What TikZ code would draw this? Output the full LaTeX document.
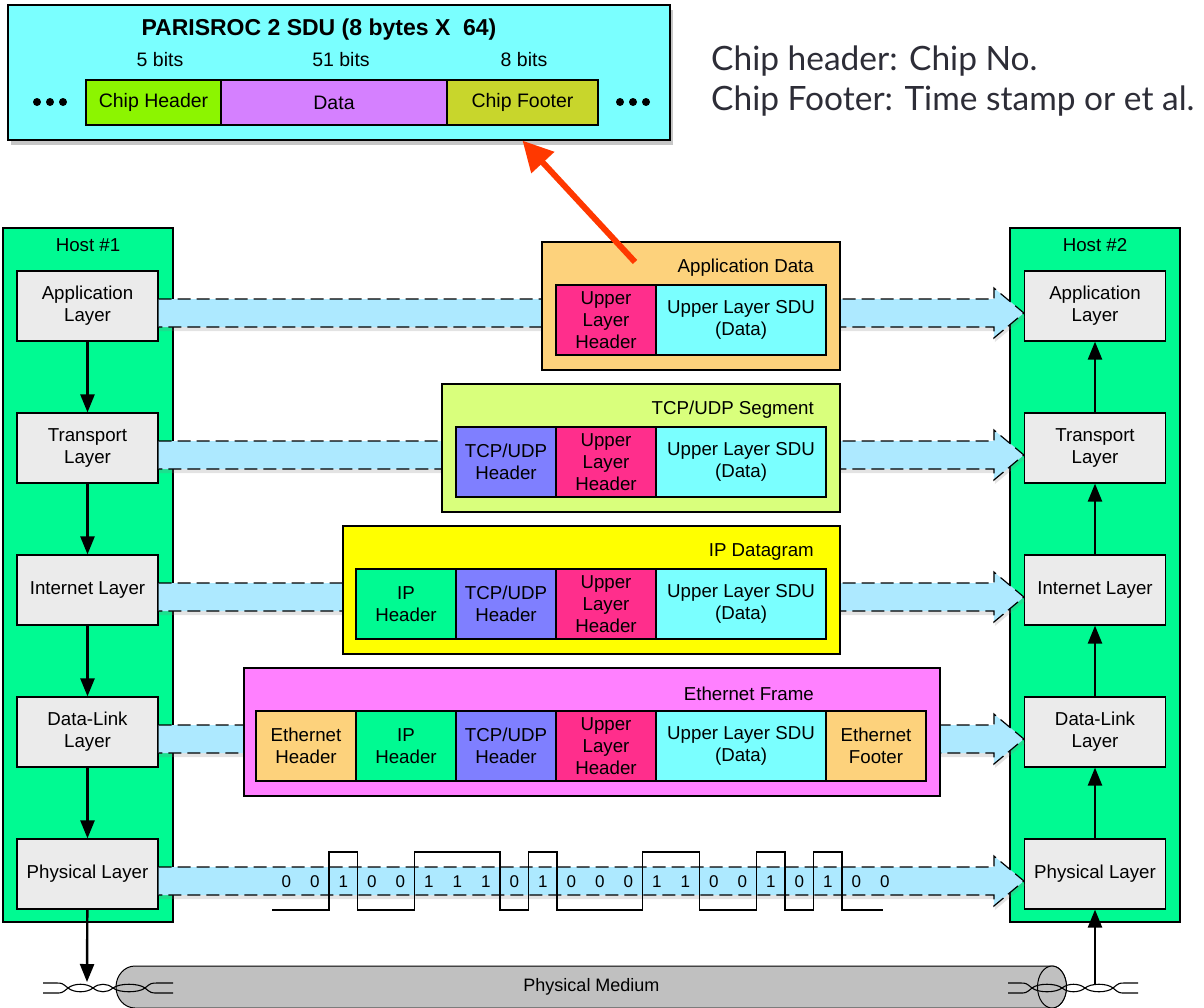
\documentclass[tikz,border=0pt]{standalone}
\usepackage{fontspec}
\setmainfont{Liberation Sans}
\newfontfamily\notefont{Lato}
\usetikzlibrary{arrows.meta,shadows}

\definecolor{sducyan}{RGB}{122,255,255}
\definecolor{chipgreen}{RGB}{140,245,0}
\definecolor{datapurple}{RGB}{213,128,255}
\definecolor{footolive}{RGB}{200,214,44}
\definecolor{hostgreen}{RGB}{0,250,146}
\definecolor{layergray}{RGB}{235,235,235}
\definecolor{bandblue}{RGB}{173,233,255}
\definecolor{apporange}{RGB}{253,210,124}
\definecolor{ulhpink}{RGB}{255,46,140}
\definecolor{tcplime}{RGB}{217,255,124}
\definecolor{tcpblue}{RGB}{127,127,255}
\definecolor{ipyellow}{RGB}{255,255,0}
\definecolor{ethpink}{RGB}{255,128,255}
\definecolor{redarrow}{RGB}{255,56,0}
\definecolor{medgray}{RGB}{192,192,192}
\definecolor{notegray}{RGB}{45,45,55}

\begin{document}
\begin{tikzpicture}[x=1pt,y=-1pt,line join=miter,
  every node/.style={font=\fontsize{18.7}{22}\selectfont},
  host/.style={draw,line width=1.2pt,fill=hostgreen,minimum width=170pt,minimum height=694pt},
  layer/.style={draw,line width=1.2pt,fill=layergray,minimum width=141pt,minimum height=70pt,align=center,inner sep=1pt},
  band/.style={fill=bandblue,drop shadow={shadow xshift=1pt,shadow yshift=-4pt,opacity=0.22}},
  bandedge/.style={line width=1.2pt,dash pattern=on 13pt off 6pt},
  frame/.style={draw,line width=1.2pt,minimum height=128pt},
  field/.style={draw,line width=1.2pt,minimum height=70pt,align=center,inner sep=1pt},
  tag/.style={anchor=east,inner sep=0pt},
  chip/.style={draw,line width=1.2pt,minimum height=45pt,font=\fontsize{19.5}{22}\selectfont},
  note/.style={anchor=base west,inner sep=0pt,text=notegray,font=\notefont\fontsize{33.5}{40}\selectfont},
  flow/.style={line width=2.4pt,-{Triangle[length=18pt,width=14pt]}},
  wire/.style={line width=1.1pt},
  bit/.style={font=\fontsize{17}{20}\selectfont,inner sep=0pt}]
  \useasboundingbox (0,0) rectangle (1204,1007);

  % SDU box on top
  \node[chip,fill=sducyan,minimum width=662pt,minimum height=135pt,
    drop shadow={shadow xshift=3pt,shadow yshift=-5pt,opacity=0.45}] (sdubox) at (339,72.5) {};
  \node[font=\bfseries\fontsize{23}{26}\selectfont] (sdutitle) at (319,30) {PARISROC 2 SDU (8 bytes X\ \ 64)};
  \node[chip,draw=none] (bits5) at (160,60) {5 bits};
  \node[chip,draw=none] (bits51) at (341,60) {51 bits};
  \node[chip,draw=none] (bits8) at (524,60) {8 bits};
  \node[chip,fill=chipgreen,minimum width=135pt] (chiphdr) at (153.5,102.5) {Chip Header};
  \node[chip,fill=datapurple,minimum width=226pt] (chipdata) at (334,102.5) {Data};
  \node[chip,fill=footolive,minimum width=151pt] (chipftr) at (522.5,102.5) {Chip Footer};
  \fill (37,102) circle (4);
  \fill (50,102) circle (4);
  \fill (63,102) circle (4);
  \fill (620,102) circle (4);
  \fill (633,102) circle (4);
  \fill (646,102) circle (4);
  \node[note] (note1) at (711,70) {Chip header: Chip No.};
  \node[note] (note2) at (711,110) {Chip Footer: Time stamp or et al.};

  % hosts and layers
  \node[host] (host1) at (88,575) {};
  \node[host] (host2) at (1095,575) {};
  \node (host1lbl) at (88,245) {Host \#1};
  \node (host2lbl) at (1095,245) {Host \#2};
  \node[layer] (L1) at (87.5,306) {Application\\Layer};
  \node[layer] (L2) at (87.5,448) {Transport\\Layer};
  \node[layer] (L3) at (87.5,590) {Internet Layer};
  \node[layer] (L4) at (87.5,732) {Data-Link\\Layer};
  \node[layer] (L5) at (87.5,874) {Physical Layer};
  \node[layer] (R1) at (1095,306) {Application\\Layer};
  \node[layer] (R2) at (1095,448) {Transport\\Layer};
  \node[layer] (R3) at (1095,590) {Internet Layer};
  \node[layer] (R4) at (1095,732) {Data-Link\\Layer};
  \node[layer] (R5) at (1095,874) {Physical Layer};

  % peer bands
  \foreach \n in {1,...,5} {
    \fill[band] ([yshift=7pt]L\n.east) -- ([xshift=-30pt,yshift=7pt]R\n.west)
      -- ([xshift=-30pt,yshift=18pt]R\n.west) -- ([yshift=-7pt]R\n.west)
      -- ([xshift=-30pt,yshift=-32pt]R\n.west) -- ([xshift=-30pt,yshift=-21pt]R\n.west)
      -- ([yshift=-21pt]L\n.east) -- cycle;
    \draw[bandedge] ([yshift=7pt]L\n.east) -- ([xshift=-30pt,yshift=7pt]R\n.west)
      -- ([xshift=-30pt,yshift=18pt]R\n.west) -- ([yshift=-7pt]R\n.west)
      -- ([xshift=-30pt,yshift=-32pt]R\n.west) -- ([xshift=-30pt,yshift=-21pt]R\n.west)
      -- ([yshift=-21pt]L\n.east);
  }

  % application data
  \node[frame,fill=apporange,minimum width=298pt] (appfr) at (691,306) {};
  \node[tag] (applbl) at (814,268) {Application Data};
  \node[field,fill=ulhpink,minimum width=100pt] (appulh) at (606,320) {Upper\\Layer\\Header};
  \node[field,fill=sducyan,minimum width=170pt] (appsdu) at (741,320) {Upper Layer SDU\\(Data)};

  % tcp/udp segment
  \node[frame,fill=tcplime,minimum width=398pt] (tcpfr) at (641,448) {};
  \node[tag] (tcplbl) at (814,410) {TCP/UDP Segment};
  \node[field,fill=tcpblue,minimum width=100pt] (tcptcp) at (506,462) {TCP/UDP\\Header};
  \node[field,fill=ulhpink,minimum width=100pt] (tcpulh) at (606,462) {Upper\\Layer\\Header};
  \node[field,fill=sducyan,minimum width=170pt] (tcpsdu) at (741,462) {Upper Layer SDU\\(Data)};

  % ip datagram
  \node[frame,fill=ipyellow,minimum width=497pt] (ipfr) at (591.5,590) {};
  \node[tag] (iplbl) at (814,552) {IP Datagram};
  \node[field,fill=hostgreen,minimum width=100pt] (ipip) at (406,604) {IP\\Header};
  \node[field,fill=tcpblue,minimum width=100pt] (iptcp) at (506,604) {TCP/UDP\\Header};
  \node[field,fill=ulhpink,minimum width=100pt] (ipulh) at (606,604) {Upper\\Layer\\Header};
  \node[field,fill=sducyan,minimum width=170pt] (ipsdu) at (741,604) {Upper Layer SDU\\(Data)};

  % ethernet frame
  \node[frame,fill=ethpink,minimum width=696pt] (ethfr) at (592,732) {};
  \node[tag] (ethlbl) at (814,694) {Ethernet Frame};
  \node[field,fill=apporange,minimum width=100pt] (etheth) at (306,746) {Ethernet\\Header};
  \node[field,fill=hostgreen,minimum width=100pt] (ethip) at (406,746) {IP\\Header};
  \node[field,fill=tcpblue,minimum width=100pt] (ethtcp) at (506,746) {TCP/UDP\\Header};
  \node[field,fill=ulhpink,minimum width=100pt] (ethulh) at (606,746) {Upper\\Layer\\Header};
  \node[field,fill=sducyan,minimum width=170pt] (ethsdu) at (741,746) {Upper Layer SDU\\(Data)};
  \node[field,fill=apporange,minimum width=100pt] (ethftr) at (876,746) {Ethernet\\Footer};

  % bits on the wire
  \draw[line width=1.4pt] (272,910) -- (329,910) -- (329,852) -- (357.5,852) -- (357.5,910)
    -- (414.5,910) -- (414.5,852) -- (500,852) -- (500,910) -- (528.5,910) -- (528.5,852)
    -- (557,852) -- (557,910) -- (642.5,910) -- (642.5,852) -- (699.5,852) -- (699.5,910)
    -- (756.5,910) -- (756.5,852) -- (785,852) -- (785,910) -- (813.5,910) -- (813.5,852)
    -- (842,852) -- (842,910) -- (883,910);
  \foreach \b [count=\i from 0] in {0,0,1,0,0,1,1,1,0,1,0,0,0,1,1,0,0,1,0,1,0,0}
    \node[bit] (bit\i) at (286.25+28.5*\i,882) {\b};

  % physical medium
  \filldraw[fill=medgray,line width=1pt] (135,966) -- (1052,966)
    arc[start angle=270,end angle=450,x radius=14.5,y radius=21] -- (135,1008)
    arc[start angle=90,end angle=270,x radius=19,y radius=21] -- cycle;
  \filldraw[fill=medgray,line width=1pt] (1052,987) ellipse[x radius=14.5,y radius=21];
  \node[font=\fontsize{18}{20}\selectfont] (medium) at (591.5,987) {Physical Medium};
  \draw[wire] (43,983) -- (56,983) .. controls (62,983) .. (68,988) .. controls (74,993) and (87,993) .. (93,988)
    .. controls (99,983) and (107,983) .. (113,988) .. controls (119,993) and (139,993) .. (145,988)
    .. controls (151,983) .. (158,983) -- (173,983);
  \draw[wire] (43,993) -- (56,993) .. controls (62,993) .. (68,988) .. controls (74,983) and (87,983) .. (93,988)
    .. controls (99,993) and (107,993) .. (113,988) .. controls (119,983) and (139,983) .. (145,988)
    .. controls (151,993) .. (158,993) -- (173,993);
  \draw[wire] (1008,983) -- (1020,983) .. controls (1026,983) .. (1032,988) .. controls (1038,993) and (1056,993) .. (1062,988)
    .. controls (1068,983) and (1079,983) .. (1085,988) .. controls (1091,993) and (1107,993) .. (1113,988)
    .. controls (1119,983) .. (1125,983) -- (1138,983);
  \draw[wire] (1008,993) -- (1020,993) .. controls (1026,993) .. (1032,988) .. controls (1038,983) and (1056,983) .. (1062,988)
    .. controls (1068,993) and (1079,993) .. (1085,988) .. controls (1091,983) and (1107,983) .. (1113,988)
    .. controls (1119,993) .. (1125,993) -- (1138,993);
  \coordinate (tpL) at (87,982);
  \coordinate (tpR) at (1095,984);

  % layer flow
  \draw[flow] (L1) -- (L2);
  \draw[flow] (L2) -- (L3);
  \draw[flow] (L3) -- (L4);
  \draw[flow] (L4) -- (L5);
  \draw[flow] (L5) -- (tpL);
  \draw[flow] (R2) -- (R1);
  \draw[flow] (R3) -- (R2);
  \draw[flow] (R4) -- (R3);
  \draw[flow] (R5) -- (R4);
  \draw[flow] (tpR) -- (R5);

  % pointer to the SDU
  \coordinate (redtail) at (635,262);
  \draw[line width=6pt,redarrow,-{Triangle[length=30pt,width=30pt]}] (redtail) -- (chipftr.south |- sdubox.south);
\end{tikzpicture}
\end{document}
